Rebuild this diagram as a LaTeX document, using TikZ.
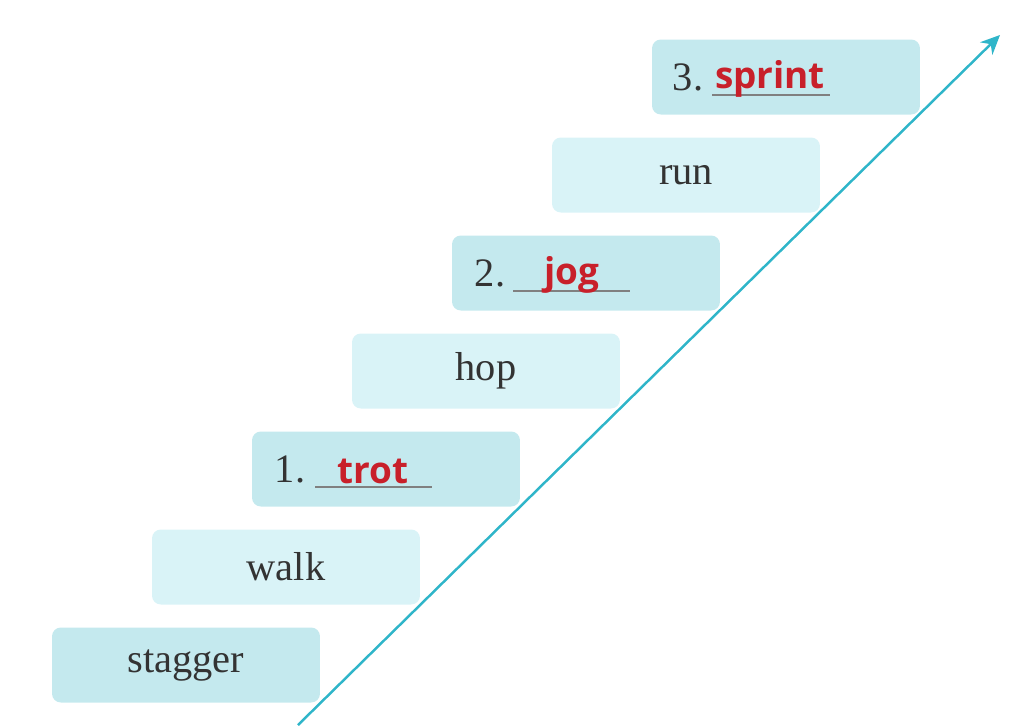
\documentclass[tikz,border=0pt]{standalone}
\usepackage{fontspec}
\setmainfont{Liberation Serif}
\newfontfamily\ansfont{Open Sans}
\usetikzlibrary{arrows.meta, positioning}
\definecolor{stepdark}{HTML}{C4E9EE}
\definecolor{steplight}{HTML}{D9F3F7}
\definecolor{arrowteal}{HTML}{2FB5C9}
\definecolor{ansred}{HTML}{C8202A}
\definecolor{txtgray}{HTML}{333333}
\begin{document}
\begin{tikzpicture}[x=0.02cm, y=-0.02cm,
  stepbox/.style={rounded corners=5pt, minimum width=5.36cm, minimum height=1.5cm,
                  inner sep=0pt, font=\fontsize{23}{26}\selectfont, text=txtgray},
  dark/.style={stepbox, fill=stepdark},
  light/.style={stepbox, fill=steplight},
  ans/.style={font=\ansfont\bfseries\fontsize{21}{24}\selectfont, text=ansred},
  num/.style={font=\fontsize{23}{26}\selectfont, text=txtgray},
  blank/.style={draw=gray, line width=0.8pt},
  arr/.style={-{Stealth[length=11pt, width=10pt]}, draw=arrowteal, line width=1.4pt},
]
\useasboundingbox (0,0) rectangle (1024,725);

% Steps
\node[dark]  (stagger) at (186,665) {stagger};
\node[light] (walk)    at (286,567) {walk};
\node[dark]  (trot)    at (386,469) {};
\node[light] (hop)     at (486,371) {hop};
\node[dark]  (jog)     at (586,273) {};
\node[light] (run)     at (686,175) {run};
\node[dark]  (sprint)  at (786,77)  {};

% Answers
\node[num] (n1) at (290,469) {1.};
\draw[blank] (315,487) -- (432,487);
\node[ans] (a1) at (373,471) {trot};
\node[num] (n2) at (490,273) {2.};
\draw[blank] (513,291) -- (630,291);
\node[ans] (a2) at (572,275) {jog};
\node[num] (n3) at (688,77) {3.};
\draw[blank] (712,95) -- (830,95);
\node[ans] (a3) at (770,79) {sprint};

% Arrow
\coordinate (low) at (298,725);
\coordinate (high) at (1000,35);
\draw[arr] (low) -- (high);
\end{tikzpicture}
\end{document}
